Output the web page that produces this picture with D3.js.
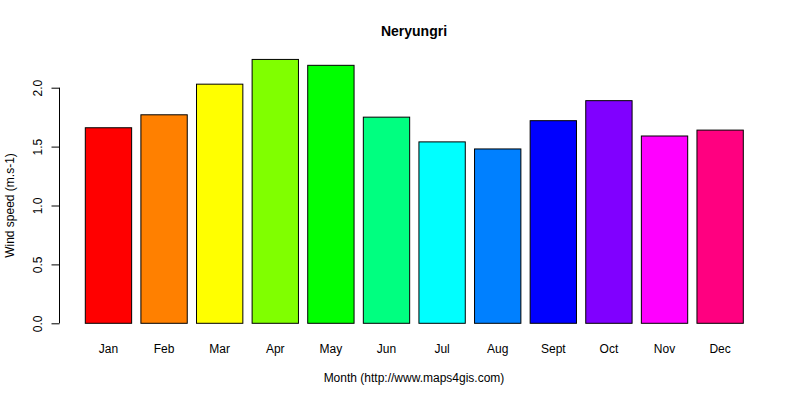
<!DOCTYPE html>
<html>
<head>
<meta charset="utf-8">
<script src="https://cdn.jsdelivr.net/npm/d3@7"></script>
<style>
    body { margin: 0; background: #fff; }
    text { font-family: 'Liberation Sans', Arial, sans-serif; }
</style>
</head>
<body>
<svg id="chart" width="800" height="400"></svg>
<script>
const months = ['Jan', 'Feb', 'Mar', 'Apr', 'May', 'Jun', 'Jul', 'Aug', 'Sept', 'Oct', 'Nov', 'Dec'];
const windSpeed = [1.66, 1.77, 2.03, 2.24, 2.19, 1.75, 1.54, 1.48, 1.72, 1.89, 1.59, 1.64];
const barColors = ['#FF0000', '#FF8000', '#FFFF00', '#80FF00', '#00FF00', '#00FF80',
    '#00FFFF', '#0080FF', '#0000FF', '#8000FF', '#FF00FF', '#FF0080'];
const yTicks = [0, 0.5, 1, 1.5, 2];

const svg = d3.select('#chart');

// R barplot: width 1, space 0.2
const xScale = d3
    .scaleBand()
    .domain(months)
    .range([85.3, 743.3])
    .paddingInner(0.2 / 1.2)
    .paddingOuter(0);

const yScale = d3.scaleLinear().domain([0, 2]).range([323.3, 87.7]);

// bars
svg.append('g')
    .selectAll('rect')
    .data(months)
    .join('rect')
    .attr('x', (d) => xScale(d))
    .attr('y', (d, i) => yScale(windSpeed[i]))
    .attr('width', xScale.bandwidth())
    .attr('height', (d, i) => yScale(0) - yScale(windSpeed[i]))
    .attr('fill', (d, i) => barColors[i])
    .attr('stroke', '#000')
    .attr('stroke-width', 1);

// y axis
const yAxis = d3.axisLeft(yScale)
    .tickValues(yTicks)
    .tickFormat(d3.format('.1f'))
    .tickSize(8)
    .tickPadding(10);

const yAxisG = svg.append('g')
    .attr('transform', 'translate(59.5,0)')
    .call(yAxis);
yAxisG.select('.domain').attr('d', `M0,${yScale(0)}V${yScale(2)}`).attr('stroke', '#000');
yAxisG.selectAll('.tick line').attr('stroke', '#000');
yAxisG.selectAll('.tick text')
    .attr('font-size', 12)
    .attr('fill', '#000')
    .attr('text-anchor', 'middle')
    .attr('x', 0)
    .attr('dy', 0)
    .attr('transform', 'translate(-21,0) rotate(-90)')
    .attr('dominant-baseline', 'middle');
yAxisG.attr('font-family', null);

// month labels (no axis line, like R barplot names)
svg.append('g')
    .selectAll('text')
    .data(months)
    .join('text')
    .attr('x', (d) => xScale(d) + xScale.bandwidth() / 2)
    .attr('y', 353)
    .attr('text-anchor', 'middle')
    .attr('font-size', 12)
    .text((d) => d);

// titles
svg.append('text')
    .attr('x', 414)
    .attr('y', 36)
    .attr('text-anchor', 'middle')
    .attr('font-size', 14)
    .attr('font-weight', 'bold')
    .text('Neryungri');

svg.append('text')
    .attr('x', 414)
    .attr('y', 382)
    .attr('text-anchor', 'middle')
    .attr('font-size', 12)
    .text('Month (http://www.maps4gis.com)');

svg.append('text')
    .attr('transform', `translate(14,${yScale(1)}) rotate(-90)`)
    .attr('text-anchor', 'middle')
    .attr('font-size', 12)
    .text('Wind speed (m.s-1)');
</script>
</body>
</html>
